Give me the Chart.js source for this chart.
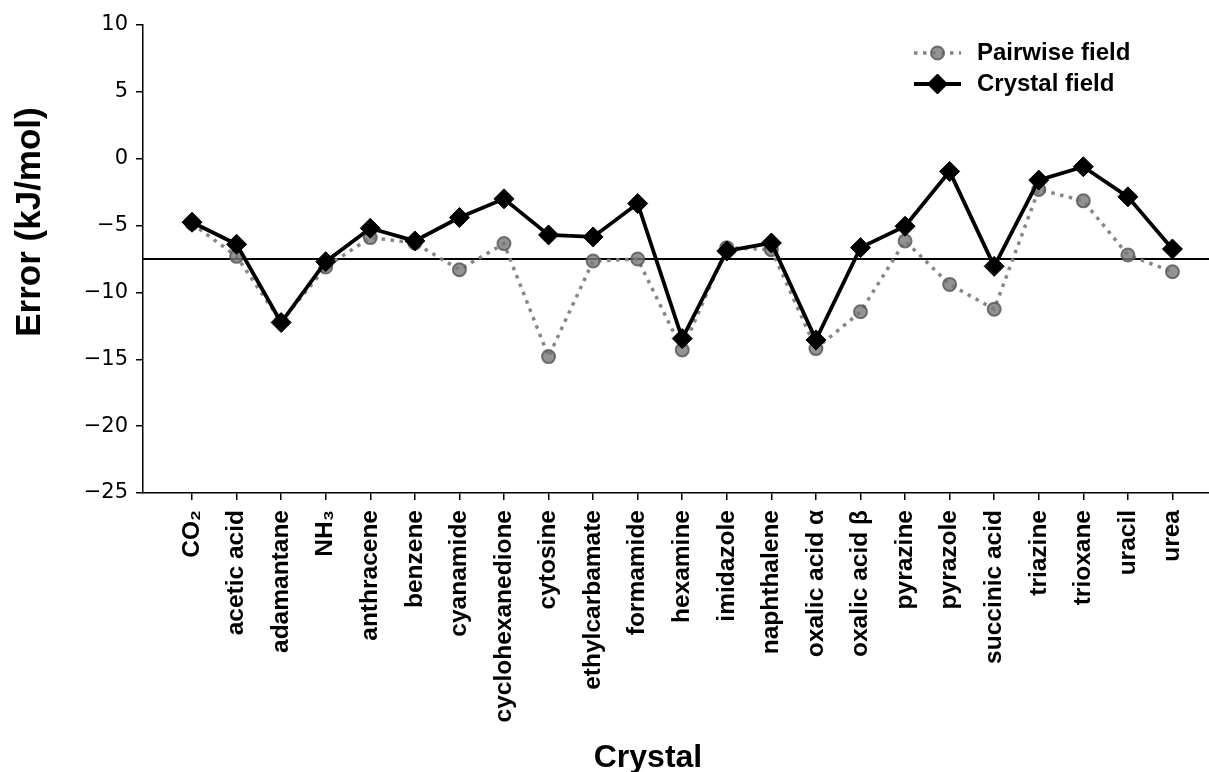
<!DOCTYPE html>
<html>
<head>
<meta charset="utf-8">
<script src="https://cdn.jsdelivr.net/npm/chart.js@4.4.1/dist/chart.umd.min.js"></script>
<style>
  html, body { margin: 0; padding: 0; background: #fff; }
</style>
</head>
<body>
<canvas id="chart" width="1209" height="772"></canvas>
<script>
// crystals along the x axis
const categories = ['CO₂', 'acetic acid', 'adamantane', 'NH₃', 'anthracene', 'benzene', 'cyanamide',
  'cyclohexanedione', 'cytosine', 'ethylcarbamate', 'formamide', 'hexamine', 'imidazole',
  'naphthalene', 'oxalic acid α', 'oxalic acid β', 'pyrazine', 'pyrazole', 'succinic acid',
  'triazine', 'trioxane', 'uracil', 'urea'];

// error in kJ/mol
const pairwiseField = [-4.85, -7.3, -12.2, -8.1, -5.9, -6.3, -8.3, -6.35, -14.8, -7.65, -7.5, -14.3,
  -6.65, -6.8, -14.2, -11.45, -6.15, -9.4, -11.25, -2.3, -3.15, -7.2, -8.45];
const crystalField = [-4.75, -6.4, -12.25, -7.7, -5.2, -6.15, -4.4, -3.0, -5.7, -5.85, -3.35, -13.45,
  -6.9, -6.3, -13.55, -6.65, -5.05, -0.95, -8.05, -1.6, -0.6, -2.85, -6.75];

const yTickValues = [-25, -20, -15, -10, -5, 0, 5, 10];
const referenceLine = -7.5;

const toPoints = arr => arr.map((v, i) => ({ x: i, y: v }));

// horizontal reference line under the data
const refLinePlugin = {
  id: 'refLine',
  beforeDatasetsDraw(chart) {
    const { ctx, chartArea, scales } = chart;
    const y = scales.y.getPixelForValue(referenceLine);
    ctx.save();
    ctx.strokeStyle = '#000';
    ctx.lineWidth = 1.8;
    ctx.beginPath();
    ctx.moveTo(chartArea.left, y);
    ctx.lineTo(chartArea.right, y);
    ctx.stroke();
    ctx.restore();
  }
};

// axis titles and the in-plot legend
const decorPlugin = {
  id: 'decor',
  afterDraw(chart) {
    const ctx = chart.ctx;
    ctx.save();
    ctx.fillStyle = '#000';
    ctx.font = 'bold 32px "Liberation Sans"';
    ctx.textAlign = 'center';
    ctx.textBaseline = 'alphabetic';
    ctx.fillText('Crystal', 648, 767);

    ctx.translate(30, 222);
    ctx.rotate(-Math.PI / 2);
    ctx.font = 'bold 35px "Liberation Sans"';
    ctx.textBaseline = 'middle';
    ctx.fillText('Error (kJ/mol)', 0, 0);
    ctx.restore();

    const rows = [53, 84];
    chart.data.datasets.forEach((ds, i) => {
      const y = rows[i];
      ctx.save();
      ctx.strokeStyle = ds.borderColor;
      ctx.lineWidth = ds.borderWidth;
      ctx.lineCap = 'butt';
      ctx.setLineDash(ds.borderDash || []);
      ctx.beginPath();
      ctx.moveTo(914, y);
      ctx.lineTo(961, y);
      ctx.stroke();
      ctx.setLineDash([]);
      ctx.fillStyle = ds.pointBackgroundColor;
      ctx.strokeStyle = ds.pointBorderColor;
      ctx.lineWidth = ds.pointBorderWidth;
      Chart.helpers.drawPoint(ctx, {
        pointStyle: ds.pointStyle, radius: ds.pointRadius, rotation: 0, borderWidth: ds.pointBorderWidth
      }, 937.5, y);
      ctx.fillStyle = '#000';
      ctx.font = 'bold 24px "Liberation Sans"';
      ctx.textAlign = 'left';
      ctx.textBaseline = 'middle';
      ctx.fillText(ds.label, 977, y);
      ctx.restore();
    });
  }
};

new Chart(document.getElementById('chart').getContext('2d'), {
  type: 'line',
  data: {
    datasets: [
      {
        label: 'Pairwise field',
        data: toPoints(pairwiseField),
        order: 1,
        borderColor: 'rgba(128,128,128,0.95)',
        borderWidth: 3.5,
        borderDash: [3.5, 5.5],
        borderCapStyle: 'butt',
        pointStyle: 'circle',
        pointRadius: 6.5,
        pointBackgroundColor: 'rgba(120,120,120,0.8)',
        pointBorderColor: 'rgba(85,85,85,0.8)',
        pointBorderWidth: 2,
        tension: 0
      },
      {
        label: 'Crystal field',
        data: toPoints(crystalField),
        order: 0,
        borderColor: '#000',
        borderWidth: 3.8,
        pointStyle: 'rectRot',
        pointRadius: 10,
        pointBackgroundColor: '#000',
        pointBorderColor: '#000',
        pointBorderWidth: 1,
        tension: 0
      }
    ]
  },
  options: {
    responsive: false,
    devicePixelRatio: 1,
    animation: false,
    layout: { autoPadding: false, padding: { top: 25, left: 0, right: 0, bottom: 0 } },
    plugins: { legend: { display: false }, tooltip: { enabled: false } },
    scales: {
      x: {
        type: 'linear',
        min: -1.1,
        max: 22.82,
        afterBuildTicks: s => { s.ticks = categories.map((c, i) => ({ value: i })); },
        afterFit: s => { s.height = 279; s.paddingLeft = 0; s.paddingRight = 0; },
        ticks: {
          autoSkip: false,
          maxRotation: 90,
          minRotation: 90,
          padding: 10,
          color: '#000',
          font: { family: 'Liberation Sans', size: 24.5, weight: 'bold' },
          callback: v => categories[v]
        },
        grid: { drawOnChartArea: false, drawTicks: true, tickLength: 7, color: '#000', lineWidth: 1.5 },
        border: { display: true, color: '#000', width: 1.5 }
      },
      y: {
        min: -25,
        max: 10,
        afterBuildTicks: s => { s.ticks = yTickValues.map(v => ({ value: v })); },
        afterFit: s => { s.width = 143; },
        ticks: {
          padding: 8,
          color: '#000',
          font: { family: 'DejaVu Sans', size: 21 },
          callback: v => String(v).replace('-', '\u2212')
        },
        grid: { drawOnChartArea: false, drawTicks: true, tickLength: 7, color: '#000', lineWidth: 1.5 },
        border: { display: true, color: '#000', width: 1.5 }
      }
    }
  },
  plugins: [refLinePlugin, decorPlugin]
});
</script>
</body>
</html>
